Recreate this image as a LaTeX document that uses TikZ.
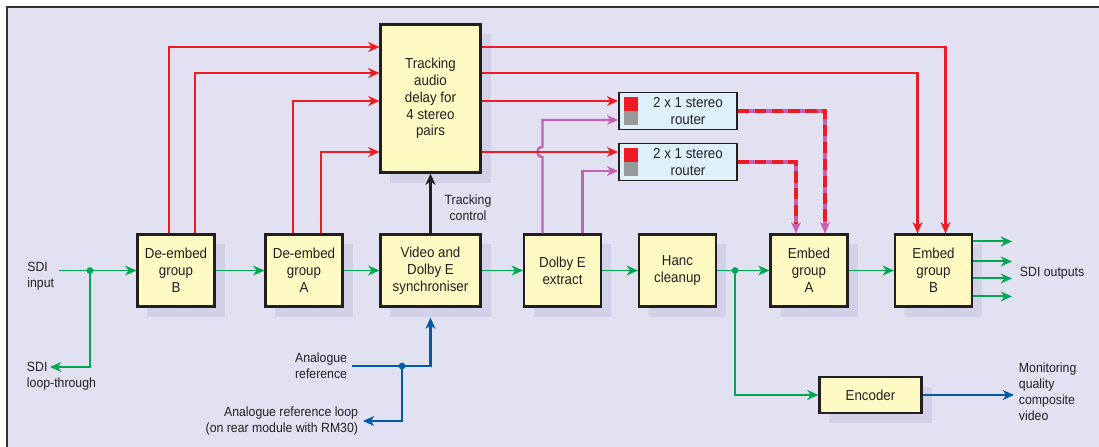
\documentclass[tikz,border=0pt]{standalone}
\usepackage{fontspec}
\setmainfont{Liberation Sans}[FakeStretch=0.92]
\usepackage{tikz}
\usetikzlibrary{
  arrows.meta,
  positioning,
  calc,
  shadows
}
\definecolor{lavender}{RGB}{226,225,241}
\definecolor{shadelav}{RGB}{211,209,232}
\definecolor{boxyellow}{RGB}{255,249,196}
\definecolor{routerblue}{RGB}{222,240,250}
\definecolor{sigred}{RGB}{237,28,36}
\definecolor{siggreen}{RGB}{0,166,81}
\definecolor{sigblue}{RGB}{0,90,170}
\definecolor{sigmag}{RGB}{198,96,176}
\definecolor{frameline}{RGB}{51,51,51}
\definecolor{ink}{RGB}{35,31,32}

\newcommand{\boxfont}{\fontsize{10.3}{12}\selectfont}
\newcommand{\lblfont}{\fontsize{9.5}{11.4}\selectfont}

\tikzset{
  block/.style={draw=ink, line width=1.5pt, fill=boxyellow, align=center,
    inner sep=0pt, text=ink, font=\boxfont,
    minimum width=1.925cm, minimum height=1.8cm,
    drop shadow={shadow xshift=0.25cm, shadow yshift=-0.25cm, fill=shadelav, opacity=1}},
  router/.style={draw=ink, line width=1.2pt, fill=routerblue,
    minimum width=2.95cm, minimum height=0.92cm, inner sep=0pt},
  rtext/.style={align=center, inner sep=0pt, text=ink, font=\boxfont, text depth=0pt},
  lbl/.style={text=ink, font=\lblfont},
  redthick/.style={draw=sigred, line width=2pt, ->},
  redthin/.style={draw=sigred, line width=1.5pt, ->},
  greenline/.style={draw=siggreen, line width=1.4pt, ->},
  blueline/.style={draw=sigblue, line width=2pt, ->},
  magline/.style={draw=sigmag, line width=1.7pt, ->},
  mixline/.style={draw=sigmag, line width=2.4pt, ->,
    postaction={draw=sigred, arrows=-, shorten >=7pt, dash pattern=on 8pt off 4pt}},
  ctlline/.style={draw=ink, line width=2pt, ->}
}

\begin{document}
\begin{tikzpicture}[x=0.025cm, y=-0.025cm, >={Stealth[length=8pt, width=7pt, inset=2.5pt]}]
  \useasboundingbox (0,0) rectangle (1099,447);
  \fill[lavender] (7,7) rectangle (1099,447);
  \draw[frameline, line width=1.6pt] (7,447) -- (7,7) -- (1099,7);

  % blocks
  \node[block, minimum width=2.5cm, minimum height=3.7cm] (trk) at (430.5,98.5) {Tracking\\audio\\delay for\\4 stereo\\pairs};
  \node[block] (deB) at (176,270.5) {De-embed\\group\\B};
  \node[block] (deA) at (304,270.5) {De-embed\\group\\A};
  \node[block, minimum width=2.5cm] (sync) at (430.5,270.5) {Video and\\Dolby E\\synchroniser};
  \node[block] (dolby) at (562.5,270.5) {Dolby E\\extract};
  \node[block] (hanc) at (677.5,270.5) {Hanc\\cleanup};
  \node[block] (embA) at (809,270.5) {Embed\\group\\A};
  \node[block] (embB) at (933.5,270.5) {Embed\\group\\B};
  \node[block, minimum width=2.55cm, minimum height=0.88cm] (enc) at (870.5,395) {Encoder};

  % routers
  \node[router] (rtA) at (678,111) {};
  \node[router] (rtB) at (678,162) {};
  \node[rtext] (rtAt) at ($(rtA)+(10,0)$) {2 x 1 stereo\\router};
  \node[rtext] (rtBt) at ($(rtB)+(10,0)$) {2 x 1 stereo\\router};
  \foreach \r in {rtA,rtB} {
    \fill[sigred] ($(\r.north west)+(6,5)$) rectangle ($(\r.north west)+(20,19)$);
    \fill[black!40] ($(\r.north west)+(6,19)$) rectangle ($(\r.north west)+(20,33)$);
  }

  % labels
  \node[lbl, align=left, anchor=east] (sdiin) at (59,276) {SDI\\input};
  \node[lbl, align=left, anchor=west] (sdiloop) at (22,376) {SDI\\loop-through};
  \node[lbl, align=right, anchor=east] (aref) at (352,366) {Analogue\\reference};
  \node[lbl, align=right, anchor=east] (aloop) at (363,421) {Analogue reference loop\\(on rear module with RM30)};
  \node[lbl, align=center] (tctl) at (468,208) {Tracking\\control};
  \node[lbl, anchor=west] (sdiout) at (1015,273) {SDI outputs};
  \node[lbl, align=left, anchor=west] (mon) at (1014,392) {Monitoring\\quality\\composite\\video};

  \coordinate (y1) at (0,47);
  \coordinate (y2) at (0,73);
  \coordinate (y3) at (0,101);
  \coordinate (y4) at (0,152);
  \coordinate (mA) at (0,120);
  \coordinate (mB) at (0,171);
  \coordinate (sp1) at (90,270.5);
  \coordinate (sp2) at (735,270.5);
  \coordinate (sp3) at (402,366);
  \coordinate (loopend) at (50,367);

  % audio into the delay
  \draw[redthick] ($(deB.north)+(-7,0)$) |- (trk.west |- y1);
  \draw[redthin] ($(deB.north)+(19,0)$) |- (trk.west |- y2);
  \draw[redthin] ($(deA.north)+(-11,0)$) |- (trk.west |- y3);
  \draw[redthick] ($(deA.north)+(17,0)$) |- (trk.west |- y4);

  % dolby e to routers
  \draw[magline] ($(dolby.north)+(-20,0)$) coordinate (m1) -- (m1 |- 0,157)
    to[out=180, in=180, looseness=1.8] (m1 |- 0,147) |- (rtA.west |- mA);
  \draw[magline] ($(dolby.north)+(20,0)$) |- (rtB.west |- mB);

  % audio out of the delay
  \draw[redthick] (trk.east |- y1) -| ($(embB.north)+(12,0)$);
  \draw[redthin] (trk.east |- y2) -| ($(embB.north)+(-16,0)$);
  \draw[redthin] (trk.east |- y3) -- (rtA.west |- y3);
  \draw[redthin] (trk.east |- y4) -- (rtB.west |- y4);

  \draw[mixline] (rtA.east) -| ($(embA.north)+(16,0)$);
  \draw[mixline] (rtB.east) -| ($(embA.north)+(-13,0)$);

  \draw[ctlline] (sync.north) -- (trk.south);

  % video path
  \draw[greenline] (sdiin.east |- deB.west) -- (deB.west);
  \draw[greenline] (sp1) |- (loopend);
  \foreach \a/\b in {deB/deA, deA/sync, sync/dolby, dolby/hanc, hanc/embA, embA/embB}
    \draw[greenline] (\a.east) -- (\b.west);
  \draw[greenline] (sp2) |- (enc.west);
  \foreach \dy [count=\i] in {8,28,45,63}
    \draw[greenline] ($(embB.north east)+(0,\dy)$) -- ++(39,0) coordinate (out\i);
  \fill[siggreen] (sp1) circle[radius=2.4pt];
  \fill[siggreen] (sp2) circle[radius=2.4pt];

  % reference
  \draw[blueline] (aref.east) -| ($(sync.south)+(0,10)$);
  \draw[blueline] (sp3) |- (aloop.east);
  \fill[sigblue] (sp3) circle[radius=2.4pt];
  \draw[blueline] (enc.east) -- (mon.west |- enc.east);
\end{tikzpicture}
\end{document}
